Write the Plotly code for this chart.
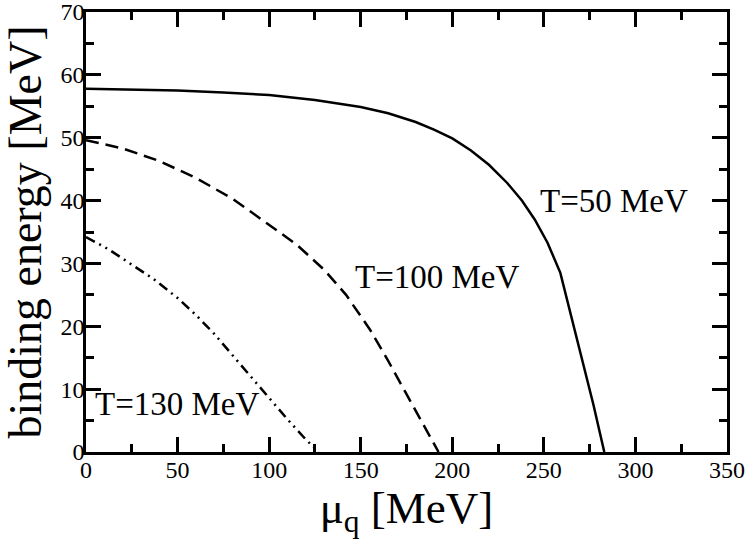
import plotly.graph_objects as go

# T = 50 MeV (solid)
mu_50 = [0, 25, 50, 75, 100, 125, 150, 165, 180, 190, 200, 210, 220, 230, 238, 245, 252, 259, 264, 270, 277, 283]
eb_50 = [57.8, 57.7, 57.5, 57.2, 56.8, 56.0, 54.9, 53.9, 52.5, 51.3, 49.9, 48.0, 45.7, 42.8, 40.0, 37.0, 33.3, 28.5, 22.8, 15.9, 7.6, 0.0]

# T = 100 MeV (dashed)
mu_100 = [0, 20, 40, 60, 80, 100, 115, 130, 142, 155, 165, 175, 185, 192.5]
eb_100 = [49.6, 48.3, 46.3, 43.6, 40.3, 36.2, 33.0, 29.0, 25.0, 19.5, 14.5, 9.2, 4.0, 0.0]

# T = 130 MeV (dash-dot-dot)
mu_130 = [0, 12, 24, 37, 50, 60, 70, 82, 95, 110, 120, 127]
eb_130 = [34.2, 32.3, 30.0, 27.5, 24.5, 21.8, 18.8, 14.8, 10.3, 5.2, 2.0, 0.0]

labels = ["T=50 MeV", "T=100 MeV", "T=130 MeV"]
label_x = [247, 146, 4]
label_y = [39.9, 27.8, 7.6]

FONT = "Liberation Serif, Times New Roman, serif"

fig = go.Figure()
fig.add_trace(go.Scatter(x=mu_50, y=eb_50, mode="lines", line=dict(color="black", width=2.5)))
fig.add_trace(go.Scatter(x=mu_100, y=eb_100, mode="lines", line=dict(color="black", width=2.5, dash="13px,7px")))
fig.add_trace(go.Scatter(x=mu_130, y=eb_130, mode="lines", line=dict(color="black", width=2.5, dash="10px,5px,2px,5px,2px,5px")))

for t, x, y in zip(labels, label_x, label_y):
    fig.add_annotation(x=x, y=y, xref="x", yref="y", text=t, showarrow=False,
                       xanchor="left", yanchor="middle", font=dict(family=FONT, size=33, color="black"))

axis_common = dict(showgrid=False, zeroline=False, showline=True, linecolor="black", linewidth=2.5,
                   mirror="ticks", ticks="inside", ticklen=15, tickwidth=2.5, tickcolor="black",
                   automargin=False, ticklabeloverflow="allow", ticklabelstandoff=-6,
                   tickfont=dict(family=FONT, size=24, color="black"))

fig.update_xaxes(range=[0, 350], dtick=50, tick0=0,
                 minor=dict(ticks="inside", ticklen=8, tickwidth=2.5, dtick=25, tickcolor="black"),
                 title=dict(text="μ<sub>q</sub> [MeV]", font=dict(family=FONT, size=45, color="black"), standoff=6),
                 **axis_common)
fig.update_yaxes(range=[0, 70], dtick=10, tick0=0,
                 minor=dict(ticks="inside", ticklen=8, tickwidth=2.5, dtick=5, tickcolor="black"),
                 title=dict(text="binding energy [MeV]", font=dict(family=FONT, size=46, color="black"), standoff=9),
                 **axis_common)

fig.update_layout(width=747, height=546, margin=dict(l=86, r=20, t=12, b=94),
                  paper_bgcolor="white", plot_bgcolor="white", showlegend=False)

fig.write_html("out.html", config={"displayModeBar": False},
               post_script="document.body.style.margin='0';")
